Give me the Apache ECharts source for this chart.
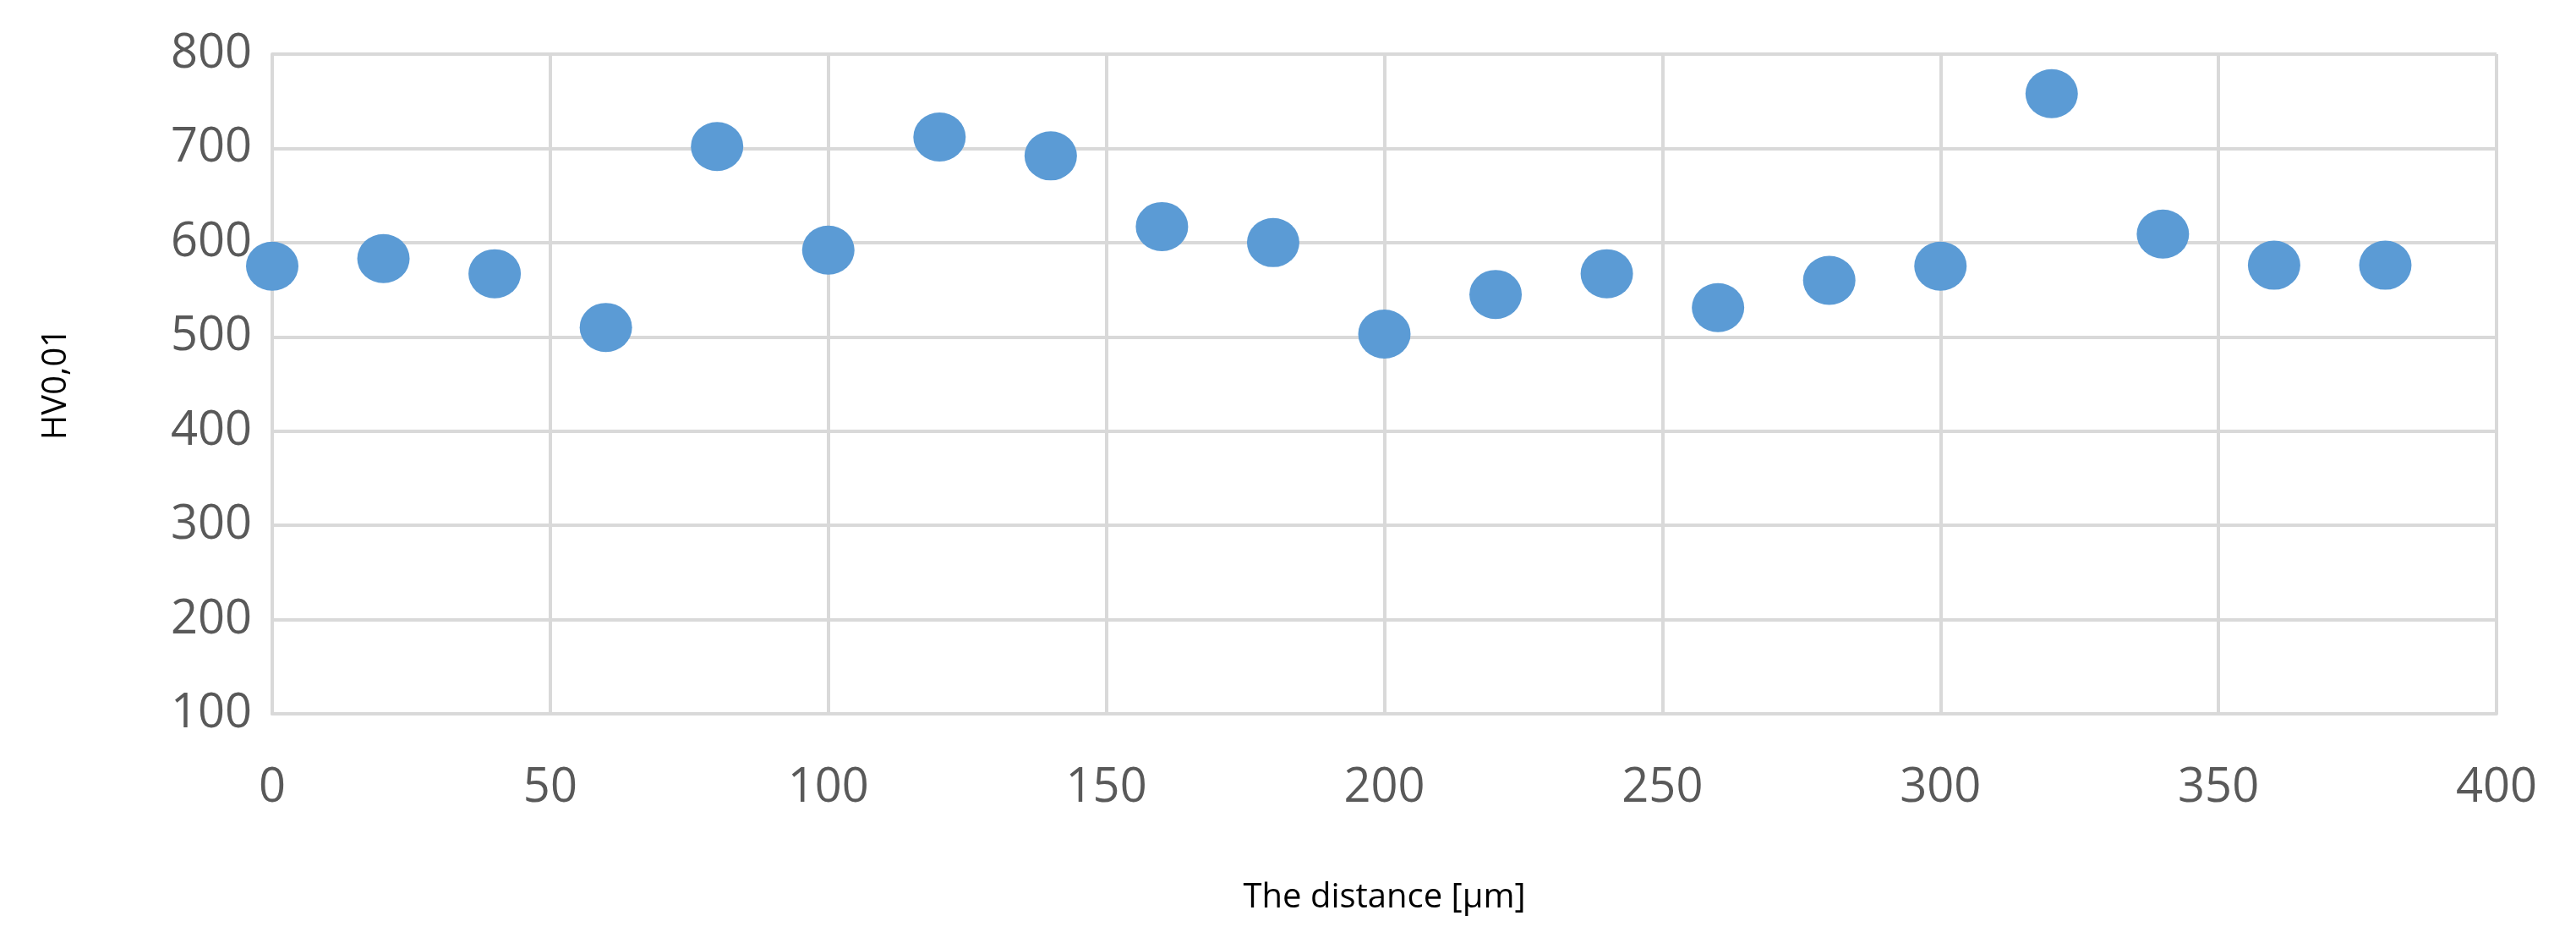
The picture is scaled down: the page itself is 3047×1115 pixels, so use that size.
<!DOCTYPE html>
<html>
<head>
<meta charset="utf-8">
<script src="https://cdn.jsdelivr.net/npm/echarts@6/dist/echarts.min.js"></script>
<style>
  html, body { margin: 0; padding: 0; background: #fff; }
  #chart { width: 3047px; height: 1115px; }
</style>
</head>
<body>
<div id="chart"></div>
<script>
// distance [µm] and hardness HV0,01
var distance = [0, 20, 40, 60, 80, 100, 120, 140, 160, 180, 200, 220, 240, 260, 280, 300, 320, 340, 360, 380];
var hardness = [575, 583, 567, 510, 702, 592, 712, 692, 617, 600, 503, 545, 567, 531, 560, 575, 758, 609, 576, 576];

var points = distance.map(function (d, i) { return [d, hardness[i]]; });

var chart = echarts.init(document.getElementById('chart'));
var gridColor = '#d9d9d9';
var textColor = '#595959';

chart.setOption({
  animation: false,
  grid: { left: 322, right: 94, top: 64, bottom: 271 },
  xAxis: {
    type: 'value',
    min: 0, max: 400, interval: 50,
    name: 'The distance [µm]',
    nameLocation: 'middle',
    nameGap: 198,
    nameTextStyle: { fontFamily: 'Open Sans', fontSize: 40, color: '#000' },
    axisLine: { show: true, lineStyle: { color: gridColor, width: 4 } },
    axisTick: { show: false },
    axisLabel: { fontFamily: 'Open Sans', fontSize: 56, color: textColor, margin: 60 },
    splitLine: { show: true, lineStyle: { color: gridColor, width: 4 } }
  },
  yAxis: {
    type: 'value',
    min: 100, max: 800, interval: 100,
    name: 'HV0,01',
    nameLocation: 'middle',
    nameGap: 235,
    nameTextStyle: { fontFamily: 'Open Sans', fontSize: 40, color: '#000' },
    axisLine: { show: true, lineStyle: { color: gridColor, width: 4 } },
    axisTick: { show: false },
    axisLabel: { fontFamily: 'Open Sans', fontSize: 56, color: textColor, margin: 24 },
    splitLine: { show: true, lineStyle: { color: gridColor, width: 4 } }
  },
  series: [{
    type: 'scatter',
    data: points,
    symbol: 'circle',
    symbolSize: [62, 58],
    itemStyle: { color: '#5b9bd5', opacity: 1 }
  }]
});
</script>
</body>
</html>
